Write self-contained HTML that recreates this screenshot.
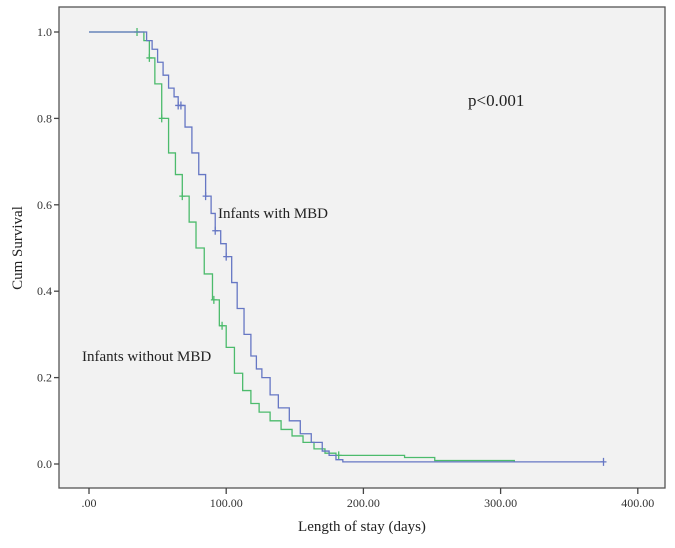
<!DOCTYPE html>
<html><head><meta charset="utf-8"><style>
body{margin:0;background:#fff;}
svg{display:block;font-family:"Liberation Serif",serif;}
</style></head><body>
<svg id="chart" width="675" height="548" viewBox="0 0 675 548">
<rect x="59" y="7" width="606" height="481" fill="#f2f2f2" stroke="#555" stroke-width="1.3"/>
<g id="axes"></g>
<g id="series"></g>
<text x="468" y="106" font-size="17" fill="#222">p&lt;0.001</text>
<text x="218" y="218" font-size="15" fill="#222">Infants with MBD</text>
<text x="82" y="361" font-size="15" fill="#222">Infants without MBD</text>
<text x="362" y="531" font-size="15" fill="#222" text-anchor="middle">Length of stay (days)</text>
<text transform="translate(22,248) rotate(-90)" font-size="15" fill="#222" text-anchor="middle">Cum Survival</text>
</svg>
<script>
const xTicks=[0,100,200,300,400];
const xTickLabels=[".00","100.00","200.00","300.00","400.00"];
const yTicks=[0,0.2,0.4,0.6,0.8,1.0];
const yTickLabels=["0.0","0.2","0.4","0.6","0.8","1.0"];
const withTimes=[0,38,42,46,50,54,58,62,65,70,75,80,85,89,92,96,100,104,108,113,118,122,126,132,138,146,154,162,170,175,180,185,375];
const withSurv=[1,1,0.98,0.96,0.93,0.9,0.87,0.85,0.83,0.78,0.72,0.67,0.62,0.58,0.54,0.51,0.48,0.42,0.36,0.3,0.25,0.22,0.2,0.16,0.13,0.1,0.07,0.05,0.03,0.02,0.01,0.005,0.005];
const withCensor=[65,67,85,92,100,375];
const withoutTimes=[0,35,40,44,48,53,58,63,68,73,78,84,90,95,100,106,112,118,124,132,140,148,156,164,172,180,230,252,310];
const withoutSurv=[1,1,0.98,0.94,0.88,0.8,0.72,0.67,0.62,0.56,0.5,0.44,0.38,0.32,0.27,0.21,0.17,0.14,0.12,0.1,0.08,0.065,0.05,0.035,0.025,0.02,0.015,0.008,0.005];
const withoutCensor=[35,44,53,68,91,97,182];
const X0=59,X1=665,Y0=7,Y1=488;
const sx=v=>89+v*1.372;
const sy=v=>464-v*432;
const NS="http://www.w3.org/2000/svg";
function mk(tag,attrs,parent){const e=document.createElementNS(NS,tag);for(const k in attrs)e.setAttribute(k,attrs[k]);parent.appendChild(e);return e;}
const axes=document.getElementById('axes');
xTicks.forEach((t,i)=>{
 const l=mk('line',{x1:sx(t),x2:sx(t),y1:Y1,y2:Y1+6,stroke:'#444','stroke-width':1.3},axes);
 
 
 const tx=mk('text',{x:sx(t),y:Y1+19,'font-size':12,'text-anchor':'middle',fill:'#333'},axes);
 tx.textContent=xTickLabels[i];
 
 
});
yTicks.forEach((t,i)=>{
 const l=mk('line',{x1:X0-5,x2:X0,y1:sy(t),y2:sy(t),stroke:'#444','stroke-width':1.3},axes);
 
 
 const tx=mk('text',{x:X0-7,y:sy(t)+4,'font-size':12,'text-anchor':'end',fill:'#333'},axes);
 tx.textContent=yTickLabels[i];
 
 
});
function survAt(times,surv,t){let s=surv[0];for(let i=0;i<times.length;i++){if(times[i]<=t)s=surv[i];}return s;}
function draw(times,surv,censor,color,name){
 const g=document.getElementById('series');
 let d='M'+sx(times[0])+','+sy(surv[0]);
 for(let i=1;i<times.length;i++){d+=' H'+sx(times[i])+' V'+sy(surv[i]);}
 const p=mk('path',{d:d,fill:'none',stroke:color,'stroke-width':1.3},g);
 
 
 censor.forEach(c=>{
  const x=sx(c),y=sy(survAt(times,surv,c));
  const m=mk('path',{d:`M${x-3},${y}H${x+3}M${x},${y-4}V${y+4}`,stroke:color,'stroke-width':1.3},g);
  
  
 });
}
draw(withoutTimes,withoutSurv,withoutCensor,'#4cbb6c','without-mbd');
draw(withTimes,withSurv,withCensor,'#6677c4','with-mbd');
</script>
</body></html>
